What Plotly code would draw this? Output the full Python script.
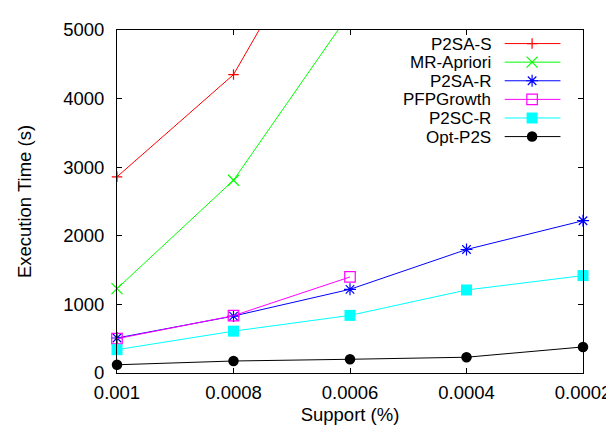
import plotly.graph_objects as go

# ---- data ----
support_labels = ["0.001", "0.0008", "0.0006", "0.0004", "0.0002"]
p2sa_s = [2860, 4350, 7300]
mr_apriori = [1230, 2810, 5250]
p2sa_r = [510, 830, 1220, 1800, 2220]
pfpgrowth = [500, 835, 1400]
p2sc_r = [340, 610, 840, 1210, 1420]
opt_p2s = [120, 175, 200, 230, 380]
y_ticks = [0, 1000, 2000, 3000, 4000, 5000]
series_names = ["P2SA-S", "MR-Apriori", "P2SA-R", "PFPGrowth", "P2SC-R", "Opt-P2S"]

YMAX = 5000
W, H = 614, 431
ML, MR, MT, MB = 109, 29, 11, 66
FONT = "Liberation Sans, Arial, sans-serif"
FS = 18.5
LEG_FS = 17

styles = [
    dict(color="#ff0000", symbol="cross-thin-open", size=7.5, lw=1.2),
    dict(color="#00ff00", symbol="x-thin-open", size=11, lw=1.2),
    dict(color="#0000ff", symbol="asterisk-open", size=10, lw=1.2),
    dict(color="#ff00ff", symbol="square-open", size=10.5, lw=1.2),
    dict(color="#00ffff", symbol="square", size=11, lw=0),
    dict(color="#000000", symbol="circle", size=10.5, lw=0),
]
values = [p2sa_s, mr_apriori, p2sa_r, pfpgrowth, p2sc_r, opt_p2s]

fig = go.Figure()
for name, vals, st in zip(series_names, values, styles):
    xs = support_labels[:len(vals)]
    fig.add_trace(go.Scatter(x=xs, y=vals, mode="lines", name=name, showlegend=False,
                             line=dict(color=st["color"], width=1)))
    ym = [v if v <= YMAX else None for v in vals]
    fig.add_trace(go.Scatter(x=xs, y=ym, mode="markers", name=name, showlegend=False,
                             cliponaxis=False,
                             marker=dict(symbol=st["symbol"], size=st["size"], color=st["color"],
                                         line=dict(color=st["color"], width=st["lw"]))))

# ---- manual gnuplot-style legend (text on the left, sample on the right) ----
pw, ph = W - ML - MR, H - MT - MB
def px(x):
    return (x - ML) / pw
def py(y):
    return (H - MB - y) / ph

shapes = []
annotations = []
for i, (name, st) in enumerate(zip(series_names, styles)):
    yy = 25 + i * 19.2
    annotations.append(dict(text=name, x=px(492), y=py(yy), xref="paper", yref="paper",
                            xanchor="right", yanchor="middle", showarrow=False,
                            height=18, valign="middle", borderpad=0,
                            font=dict(family=FONT, size=LEG_FS, color="#000")))
    shapes.append(dict(type="line", xref="paper", yref="paper", x0=px(505), x1=px(562),
                       y0=py(yy), y1=py(yy), line=dict(color=st["color"], width=1), layer="above"))
    fig.add_trace(go.Scatter(x=[px(533)], y=[py(yy)], mode="markers", xaxis="x2", yaxis="y2",
                             showlegend=False, cliponaxis=False, hoverinfo="skip",
                             marker=dict(symbol=st["symbol"], size=st["size"], color=st["color"],
                                         line=dict(color=st["color"], width=st["lw"]))))

axis_common = dict(showline=True, linecolor="#000", linewidth=1, mirror="allticks",
                   ticks="inside", ticklen=5, tickcolor="#000", showgrid=False, zeroline=False,
                   tickfont=dict(family=FONT, size=FS, color="#000"))

fig.update_layout(
    width=W, height=H,
    margin=dict(l=ML, r=MR, t=MT, b=MB),
    paper_bgcolor="white", plot_bgcolor="white",
    font=dict(family=FONT, size=FS, color="#000"),
    xaxis=dict(type="category", categoryorder="array", categoryarray=support_labels,
               range=[0, len(support_labels) - 1],
               title=dict(text="Support (%)", font=dict(family=FONT, size=FS, color="#000"), standoff=5),
               ticklabelstandoff=3, **axis_common),
    yaxis=dict(range=[0, YMAX], tickvals=y_ticks, ticktext=[str(t) for t in y_ticks],
               title=dict(text="Execution Time (s)", font=dict(family=FONT, size=FS, color="#000"), standoff=26),
               ticklabelstandoff=8, **axis_common),
    xaxis2=dict(overlaying="x", range=[0, 1], visible=False, anchor="y2"),
    yaxis2=dict(overlaying="y", range=[0, 1], visible=False, anchor="x2"),
    shapes=shapes, annotations=annotations,
    showlegend=False,
)

fig.write_html("out.html")
